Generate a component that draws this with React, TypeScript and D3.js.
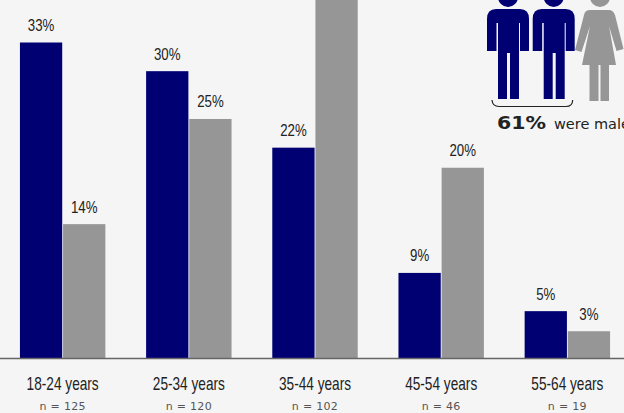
import React from "react";
import * as d3 from "d3";

const categories = ["18-24 years", "25-34 years", "35-44 years", "45-54 years", "55-64 years"];
const sampleSizes = ["n = 125", "n = 120", "n = 102", "n = 46", "n = 19"];
const maleValues = [33, 30, 22, 9, 5];
const maleBarHeights = [33, 30, 22, 8.9, 4.9];
const femaleValues = [14, 25, 38, 20, 3];
const femaleBarHeights = [14, 25, 38, 19.9, 2.8];
const NAVY = "#000073";
const GRAY = "#969696";
const W = 624, H = 413, BASE = 358;
const narrow = "'Liberation Sans', sans-serif";
const wide = "'DejaVu Sans', sans-serif";

const x0 = d3.scaleBand<string>().domain(categories).range([0, 630]).paddingInner(0.323).paddingOuter(0.158);
const x1 = d3.scaleBand<string>().domain(["m", "f"]).range([0, x0.bandwidth()]).paddingInner(0.02);
const y = d3.scaleLinear().domain([0, 33]).range([BASE, 42.5]);

const MAN = "M0 19 Q0 9 9 9 L33 9 Q42 9 42 19 L42 51 L33 51 L33 23 L32 23 L32 99 L23 99 L23 53 L20 53 L20 99 L11 99 L11 23 L9.5 23 L9.5 51 L0 51 Z";
const WOMAN = "M9 15 Q10 10 15 10 L34 10 Q38 10 40 15 L48.5 49 L41.5 51 L34 26 L41 65 L34 65 L34 101 L25.5 101 L25.5 65 L23.5 65 L23.5 101 L14.5 101 L14.5 65 L7 65 L15 26 L6.5 52 L0 50 Z";

function Squeezed({ x, y: ty, sx, size, children }: { x: number; y: number; sx: number; size: number; children: React.ReactNode }) {
  return (
    <text transform={`translate(${x},${ty}) scale(${sx},1)`} textAnchor="middle" fontFamily={narrow} fontSize={size} fill="#222">
      {children}
    </text>
  );
}

export default function App() {
  return (
    <svg width={W} height={H} viewBox={`0 0 ${W} ${H}`} style={{ position: "fixed", left: 0, top: 0, background: "#f5f5f5" }}>
      {categories.map((c, i) => {
        const gx = x0(c)!;
        const cx = gx + x0.bandwidth() / 2;
        const mx = gx + x1("m")!;
        const fx = gx + x1("f")!;
        const my = y(maleBarHeights[i]);
        const fy = y(femaleBarHeights[i]);
        return (
          <g key={c}>
            <rect x={mx} y={my} width={x1.bandwidth()} height={BASE - my} fill={NAVY} />
            <rect x={fx} y={fy} width={x1.bandwidth()} height={BASE - fy} fill={GRAY} />
            <Squeezed x={mx + x1.bandwidth() / 2} y={my - 11.5} sx={0.78} size={17}>{maleValues[i]}%</Squeezed>
            {fy > 20 && (
              <Squeezed x={fx + x1.bandwidth() / 2} y={fy - 11.5} sx={0.78} size={17}>{femaleValues[i]}%</Squeezed>
            )}
            <Squeezed x={cx} y={389.5} sx={0.78} size={17.5}>{c}</Squeezed>
            <text x={cx} y={410} textAnchor="middle" fontFamily={wide} fontSize={11} letterSpacing={0.3} fill="#555">{sampleSizes[i]}</text>
          </g>
        );
      })}
      <line x1={0} x2={W} y1={BASE + 0.5} y2={BASE + 0.5} stroke="#666" strokeWidth={1.5} />
      {[487, 532.7].map((px) => (
        <g key={px} transform={`translate(${px},0)`} fill={NAVY}>
          <circle cx={21} cy={-3} r={10} />
          <path d={MAN} />
        </g>
      ))}
      <g transform="translate(575,0)" fill={GRAY}>
        <circle cx={25} cy={-3} r={10} />
        <path d={WOMAN} />
      </g>
      <path d="M492 100 Q492.5 106.5 499 106.5 L566 106.5 Q572.5 106.5 572.7 100" fill="none" stroke="#222" strokeWidth={1.2} />
      <text x={497} y={129} fontFamily={wide} fontWeight={700} fontSize={17} textLength={49} lengthAdjust="spacingAndGlyphs" fill="#222">61%</text>
      <text x={554} y={129} fontFamily={wide} fontSize={14.5} fill="#222">were male</text>
    </svg>
  );
}
